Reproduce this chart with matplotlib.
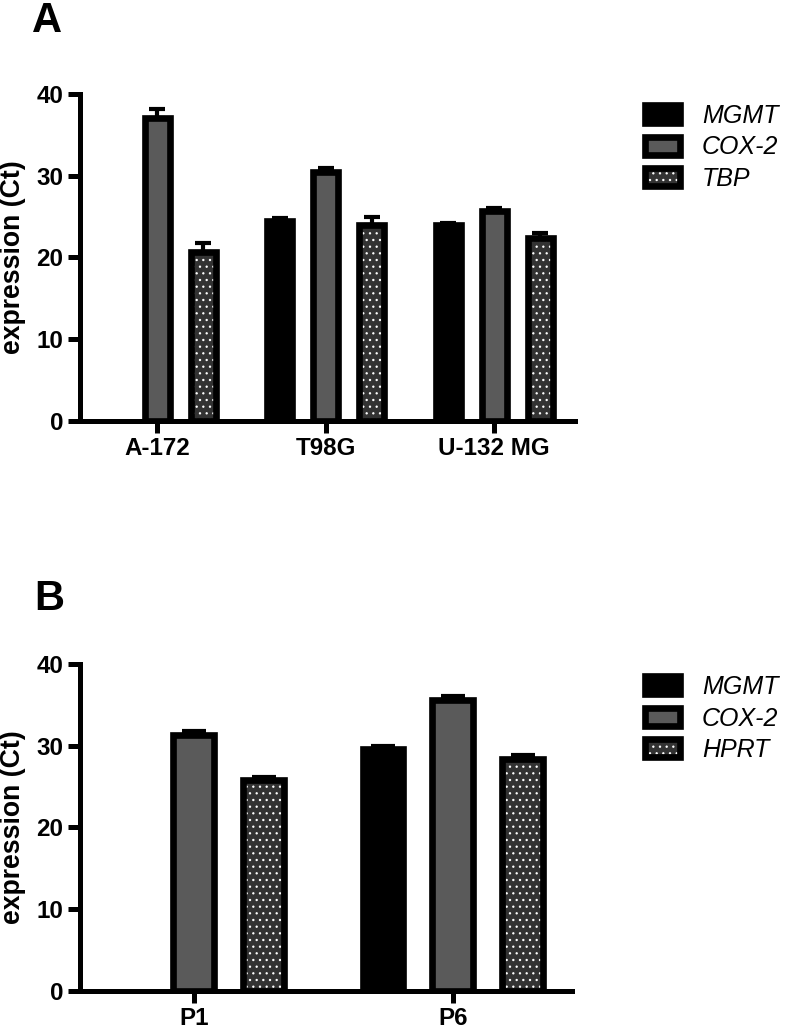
import numpy as np
import matplotlib.pyplot as plt
from matplotlib.patches import Patch

plt.rcParams['font.family'] = ['Liberation Sans', 'DejaVu Sans']
plt.rcParams['font.weight'] = 'bold'
plt.rcParams['hatch.color'] = 'white'
plt.rcParams['hatch.linewidth'] = 0.6

# panel A: cell lines
cells = ["A-172", "T98G", "U-132 MG"]
genes_a = ["MGMT", "COX-2", "TBP"]
mean_a = {
    "MGMT": [np.nan, 24.5, 24.0],
    "COX-2": [37.1, 30.5, 25.7],
    "TBP": [20.7, 23.9, 22.4],
}
err_a = {
    "MGMT": [np.nan, 0.3, 0.2],
    "COX-2": [1.1, 0.4, 0.3],
    "TBP": [1.1, 1.1, 0.6],
}

# panel B: patients
patients = ["P1", "P6"]
genes_b = ["MGMT", "COX-2", "HPRT"]
mean_b = {
    "MGMT": [np.nan, 29.6],
    "COX-2": [31.3, 35.6],
    "HPRT": [25.8, 28.4],
}
err_b = {
    "MGMT": [np.nan, 0.4],
    "COX-2": [0.5, 0.5],
    "HPRT": [0.4, 0.5],
}

fills = ["black", "#5a5a5a", "#333333"]
hatches = [None, None, "..."]
LW = 4.0


def draw_panel(ax, groups, genes, means, errs, width, step, capsize, xlim):
    x = np.arange(len(groups))
    handles = []
    for i, g in enumerate(genes):
        pos = x + (i - 1) * step
        vals = np.array(means[g], dtype=float)
        ax.bar(pos, vals, width, color=fills[i], hatch=hatches[i],
               linewidth=0, zorder=2)
        ax.bar(pos, vals, width, fill=False, edgecolor="black",
               linewidth=LW, zorder=3)
        e = np.array(errs[g], dtype=float)
        ax.errorbar(pos, vals, yerr=[np.zeros_like(e), e], fmt="none",
                    ecolor="black", elinewidth=2.5, capsize=capsize,
                    capthick=2.5, zorder=1)
        h1 = Patch(facecolor=fills[i], hatch=hatches[i], linewidth=0)
        h2 = Patch(fill=False, edgecolor="black", linewidth=LW)
        handles.append((h1, h2))
    ax.set_xlim(*xlim)
    ax.set_ylim(0, 40)
    ax.set_yticks([0, 10, 20, 30, 40])
    ax.set_xticks(x)
    ax.set_xticklabels(groups)
    ax.spines["top"].set_visible(False)
    ax.spines["right"].set_visible(False)
    for s in ["left", "bottom"]:
        ax.spines[s].set_linewidth(3)
    ax.tick_params(width=3, length=7, labelsize=14.5, pad=3)
    ax.set_ylabel("expression (Ct)", fontsize=16, fontweight="bold", labelpad=6)
    return handles


fig = plt.figure(figsize=(787 / 120, 1032 / 120), dpi=120)

ax_a = fig.add_axes([80 / 787, 1 - 420.7 / 1032, 495 / 787, 326.7 / 1032])
ha = draw_panel(ax_a, cells, genes_a, mean_a, err_a, 0.148, 0.273, 4.8, (-0.46, 2.48))

ax_b = fig.add_axes([80 / 787, 1 - 990.7 / 1032, 492 / 787, 326.7 / 1032])
hb = draw_panel(ax_b, patients, genes_b, mean_b, err_b, 0.158, 0.27, 7.2, (-0.44, 1.46))

leg_kw = dict(loc="upper left", frameon=False, borderpad=0, borderaxespad=0,
              handlelength=1.4, handleheight=0.72, handletextpad=0.88,
              labelspacing=0.3, bbox_transform=fig.transFigure,
              prop=dict(family="Liberation Sans", style="italic",
                        weight="normal", size=15))
fig.legend(ha, genes_a, bbox_to_anchor=(645 / 787, 1 - 104 / 1032), **leg_kw)
fig.legend(hb, genes_b, bbox_to_anchor=(645 / 787, 1 - 675 / 1032), **leg_kw)

fig.text(32 / 787, 1 - 32 / 1032, "A", fontsize=25, fontweight="bold", va="baseline")
fig.text(34 / 787, 1 - 610 / 1032, "B", fontsize=25, fontweight="bold", va="baseline")

fig.savefig("out.png", dpi=120)
